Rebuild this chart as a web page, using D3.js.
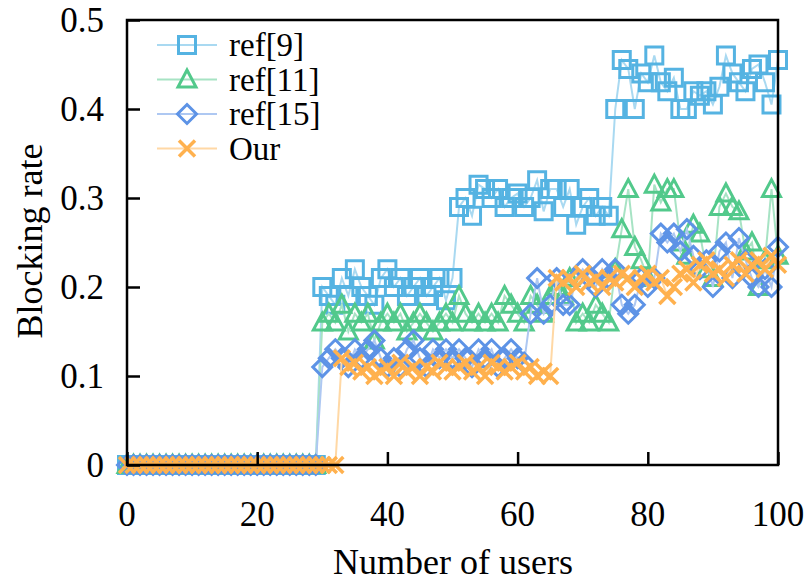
<!DOCTYPE html>
<html>
<head>
<meta charset="utf-8">
<script src="https://cdn.jsdelivr.net/npm/d3@7"></script>
<style>
  body { margin: 0; background: #fff; }
  svg text { font-family: "Liberation Serif", "Times New Roman", serif; fill: #000; }
</style>
</head>
<body>
<svg id="chart" width="807" height="582"></svg>
<script>
// number of users (x values)
var users = [0,1,2,3,4,5,6,7,8,9,10,11,12,13,14,15,16,17,18,19,20,21,22,23,24,25,26,27,28,29,
    30,31,32,33,34,35,36,37,38,39,40,41,42,43,44,45,46,47,48,49,50,51,52,53,54,55,56,57,58,59,
    60,61,62,63,64,65,66,67,68,69,70,71,72,73,74,75,76,77,78,79,80,81,82,83,84,85,86,87,88,89,
    90,91,92,93,94,95,96,97,98,99,100];

var ref9 = [0,0,0,0,0,0,0,0,0,0,0,0,0,0,0,0,0,0,0,0,0,0,0,0,0,0,0,0,0,0,
    0.20,0.19,0.18,0.21,0.19,0.22,0.20,0.19,0.18,0.21,0.22,0.20,0.21,0.19,0.20,0.21,0.19,0.20,0.21,0.185,0.21,
    0.29,0.30,0.28,0.315,0.31,0.30,0.31,0.29,0.30,0.305,0.29,0.30,0.32,0.285,0.31,
    0.31,0.29,0.31,0.27,0.29,0.30,0.28,0.29,0.28,
    0.40,0.455,0.445,0.40,0.44,0.43,0.46,0.43,0.42,0.435,0.40,0.40,0.42,0.415,0.42,0.405,0.425,0.46,0.44,0.43,0.42,0.445,0.45,0.43,0.405,0.455];

var ref11 = [0,0,0,0,0,0,0,0,0,0,0,0,0,0,0,0,0,0,0,0,0,0,0,0,0,0,0,0,0,0,
    0.16,0.17,0.16,0.18,0.15,0.17,0.16,0.17,0.14,0.16,0.17,0.16,0.17,0.15,0.16,0.17,0.16,0.15,0.16,0.17,0.16,
    0.19,0.17,0.16,0.17,0.16,0.17,0.16,0.19,0.18,0.17,0.16,0.19,0.18,0.17,0.19,
    0.20,0.19,0.21,0.16,0.17,0.16,0.18,0.17,0.16,
    0.22,0.265,0.31,0.245,0.23,0.21,0.315,0.295,0.31,0.31,0.25,0.235,0.27,0.26,0.22,0.21,0.29,0.305,0.29,0.285,0.24,0.25,0.20,0.23,0.31,0.235];

var ref15 = [0,0,0,0,0,0,0,0,0,0,0,0,0,0,0,0,0,0,0,0,0,0,0,0,0,0,0,0,0,0,
    0.11,0.12,0.13,0.12,0.11,0.13,0.12,0.13,0.14,0.12,0.11,0.12,0.11,0.13,0.14,0.12,0.11,0.13,0.12,0.13,0.12,
    0.13,0.12,0.11,0.13,0.12,0.13,0.11,0.12,0.13,0.12,0.115,0.17,0.21,0.17,0.18,
    0.21,0.18,0.18,0.21,0.22,0.21,0.20,0.22,0.21,
    0.22,0.18,0.17,0.18,0.21,0.20,0.21,0.26,0.25,0.26,0.24,0.265,0.235,0.22,0.23,0.20,0.24,0.25,0.21,0.255,0.23,0.21,0.20,0.22,0.20,0.245];

var our = [0,0,0,0,0,0,0,0,0,0,0,0,0,0,0,0,0,0,0,0,0,0,0,0,0,0,0,0,0,0,0,0,0,
    0.12,0.11,0.115,0.105,0.11,0.10,0.105,0.11,0.10,0.115,0.105,0.11,0.10,0.11,0.105,0.115,0.11,0.105,
    0.11,0.115,0.105,0.11,0.10,0.115,0.11,0.105,0.11,0.115,0.105,0.11,0.10,0.105,0.10,
    0.21,0.205,0.21,0.20,0.215,0.205,0.21,0.20,0.21,0.205,0.215,0.21,0.20,0.21,0.215,0.205,0.21,0.19,0.20,0.215,
    0.22,0.205,0.225,0.23,0.215,0.22,0.21,0.225,0.23,0.215,0.225,0.23,0.22,0.235,0.225];

var seriesNames = ["ref[9]", "ref[11]", "ref[15]", "Our"];
var seriesValues = [ref9, ref11, ref15, our];
var xTicks = [0, 20, 40, 60, 80, 100];
var yTicks = [0, 0.1, 0.2, 0.3, 0.4, 0.5];

var markerColors = ["#55b3e2", "#52c98b", "#5d93e6", "#ffb14e"];
var lineColors = ["#a9d9f1", "#a7e3c4", "#aec8f2", "#ffd8a5"];
var markerKinds = ["square", "triangle", "diamond", "cross"];

var svg = d3.select("#chart");
var plotLeft = 127, plotRight = 778, plotTop = 20, plotBottom = 465;

var x = d3.scaleLinear().domain([0, 100]).range([plotLeft, plotRight]);
var y = d3.scaleLinear().domain([0, 0.5]).range([plotBottom, plotTop]);

function MarkerPath(kind) {
    if (kind === "square") return "M-8.5,-8.5H8.5V8.5H-8.5Z";
    if (kind === "triangle") return "M0,-9.5L9,7.5L-9,7.5Z";
    if (kind === "diamond") return "M0,-9.5L9.5,0L0,9.5L-9.5,0Z";
    return "M-8,-8L8,8M-8,8L8,-8";
}

function DrawMarkers(g, data, i) {
    g.selectAll("path.mk")
        .data(data)
        .enter().append("path")
        .attr("class", "mk")
        .attr("transform", function(d) {
            return "translate(" + x(d[0]) + "," + y(d[1]) + ")";
        })
        .attr("d", MarkerPath(markerKinds[i]))
        .attr("fill", "none")
        .attr("stroke", markerColors[i])
        .attr("stroke-width", markerKinds[i] === "cross" ? 3.5 : 3)
        .attr("stroke-linejoin", "miter");
}

var line = d3.line()
    .x(function(d) { return x(d[0]); })
    .y(function(d) { return y(d[1]); });

var plot = svg.append("g");
seriesValues.forEach(function(vals, i) {
    var data = users.map(function(u, k) { return [u, vals[k]]; });
    var g = plot.append("g");
    g.append("path")
        .datum(data)
        .attr("d", line)
        .attr("fill", "none")
        .attr("stroke", lineColors[i])
        .attr("stroke-width", 2);
    DrawMarkers(g, data, i);
});

// frame
svg.append("rect")
    .attr("x", plotLeft).attr("y", plotTop)
    .attr("width", plotRight - plotLeft).attr("height", plotBottom - plotTop)
    .attr("fill", "none")
    .attr("stroke", "#000")
    .attr("stroke-width", 2.5);

// axes, ticks pointing inward
var xAxis = d3.axisTop(x).tickValues(xTicks).tickSize(13).tickFormat("");
svg.append("g")
    .attr("transform", "translate(0," + plotBottom + ")")
    .call(xAxis)
    .call(function(g) {
        g.select(".domain").remove();
        g.selectAll("line").attr("stroke", "#000").attr("stroke-width", 2.5);
    });

var yAxis = d3.axisRight(y).tickValues(yTicks).tickSize(13).tickFormat("");
svg.append("g")
    .attr("transform", "translate(" + plotLeft + ",0)")
    .call(yAxis)
    .call(function(g) {
        g.select(".domain").remove();
        g.selectAll("line").attr("stroke", "#000").attr("stroke-width", 2.5);
    });

// tick labels
svg.selectAll("text.xt")
    .data(xTicks)
    .enter().append("text")
    .attr("class", "xt")
    .attr("x", function(d) { return x(d); })
    .attr("y", 526)
    .attr("text-anchor", "middle")
    .style("font-size", "35px")
    .text(function(d) { return d; });

svg.selectAll("text.yt")
    .data(yTicks)
    .enter().append("text")
    .attr("class", "yt")
    .attr("x", 104)
    .attr("y", function(d) { return y(d) + 12; })
    .attr("text-anchor", "end")
    .style("font-size", "35px")
    .text(function(d) { return d === 0 ? "0" : d3.format(".1f")(d); });

// axis titles
svg.append("text")
    .attr("x", 453)
    .attr("y", 574)
    .attr("text-anchor", "middle")
    .style("font-size", "36px")
    .text("Number of users");

svg.append("text")
    .attr("transform", "translate(42,241) rotate(-90)")
    .attr("text-anchor", "middle")
    .style("font-size", "36px")
    .text("Blocking rate");

// legend
var legend = svg.append("g");
seriesNames.forEach(function(name, i) {
    var ly = 45 + i * 34.5;
    var lg = legend.append("g");
    lg.append("line")
        .attr("x1", 157).attr("x2", 217)
        .attr("y1", ly).attr("y2", ly)
        .attr("stroke", lineColors[i])
        .attr("stroke-width", 2);
    lg.append("path")
        .attr("transform", "translate(187," + ly + ")")
        .attr("d", MarkerPath(markerKinds[i]))
        .attr("fill", "none")
        .attr("stroke", markerColors[i])
        .attr("stroke-width", markerKinds[i] === "cross" ? 3.5 : 3);
    lg.append("text")
        .attr("x", 229)
        .attr("y", ly + 11)
        .style("font-size", "33px")
        .text(name);
});
</script>
</body>
</html>
